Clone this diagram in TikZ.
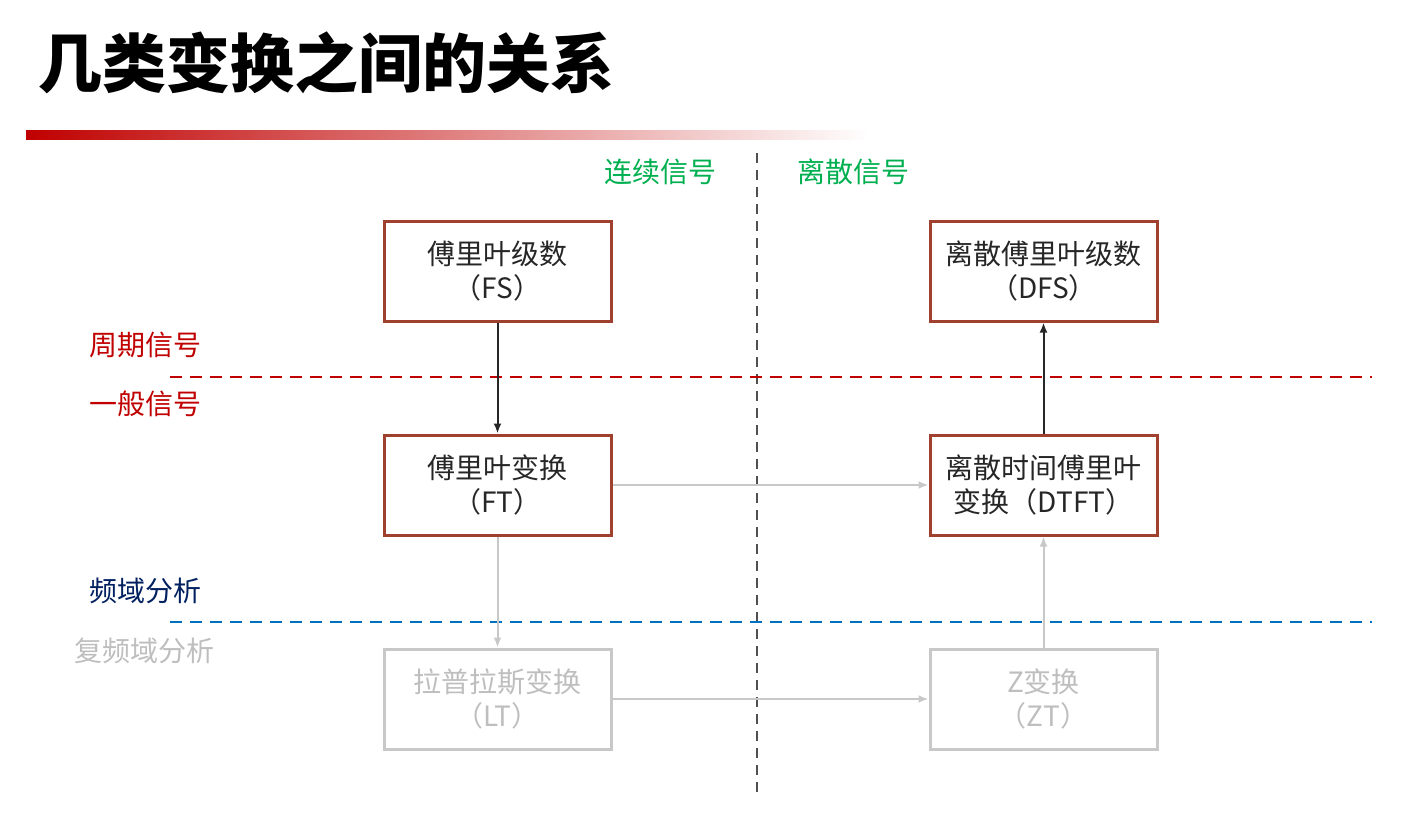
\documentclass[tikz,border=0pt]{standalone}
\usepackage{fontspec}
\setmainfont{Noto Sans CJK SC}
\usetikzlibrary{arrows.meta}
\definecolor{boxred}{RGB}{160,64,46}
\definecolor{boxgray}{RGB}{200,200,200}
\definecolor{txtgray}{RGB}{190,190,190}
\definecolor{txtdark}{RGB}{38,38,38}
\definecolor{lblred}{RGB}{192,0,0}
\definecolor{lblnavy}{RGB}{0,32,96}
\definecolor{lblgreen}{RGB}{0,176,80}
\definecolor{lineblue}{RGB}{0,112,192}
\definecolor{vgray}{RGB}{80,80,80}
\begin{document}
\begin{tikzpicture}[x=1pt,y=-1pt,
  tbox/.style={draw=boxred,line width=3pt,minimum width=227pt,minimum height=100pt,
    align=center,inner sep=0pt,text=txtdark,font=\fontsize{28}{34}\selectfont},
  gbox/.style={tbox,draw=boxgray,text=txtgray},
  darr/.style={draw=txtdark,line width=2pt,-{Latex[length=10pt,width=8pt]}},
  garr/.style={draw=boxgray,line width=2pt,-{Latex[length=10pt,width=8pt]}},
  lbl/.style={inner sep=0pt,font=\fontsize{28}{32}\selectfont},
  hdash/.style={line width=2.8pt,dash pattern=on 12pt off 8pt}]
\path[use as bounding box] (0,0) rectangle (1415,814);
% title
\node[anchor=west,inner sep=0pt,font=\fontsize{64}{72}\selectfont\bfseries] (title) at (38,63) {几类变换之间的关系};
\shade[left color=lblred,right color=white] (26,130) rectangle (870,139);
% divider lines
\coordinate (vt) at (757,153);
\coordinate (vb) at (757,795);
\draw[vgray,line width=2.5pt,dash pattern=on 10pt off 7pt] (vt) -- (vb);
\coordinate (rl) at (170,377);
\coordinate (rr) at (1372,377);
\draw[hdash,lblred] (rl) -- (rr);
\coordinate (bl) at (170,622);
\coordinate (br) at (1372,622);
\draw[hdash,lineblue] (bl) -- (br);
% labels
\node[lbl,text=lblgreen] (cont) at (660,172) {连续信号};
\node[lbl,text=lblgreen] (disc) at (853,172) {离散信号};
\node[lbl,text=lblred,anchor=west] (per) at (89,345) {周期信号};
\node[lbl,text=lblred,anchor=west] (gen) at (89,404) {一般信号};
\node[lbl,text=lblnavy,anchor=west] (freq) at (89,591) {频域分析};
\node[lbl,text=txtgray,anchor=west] (cfreq) at (74,651) {复频域分析};
% boxes
\node[tbox] (fs) at (497.5,271) {傅里叶级数\\（FS）};
\node[tbox] (dfs) at (1043.5,271) {离散傅里叶级数\\（DFS）};
\node[tbox] (ft) at (497.5,485) {傅里叶变换\\（FT）};
\node[tbox] (dtft) at (1043.5,485) {离散时间傅里叶\\变换（DTFT）};
\node[gbox] (lt) at (497.5,699) {拉普拉斯变换\\（LT）};
\node[gbox] (zt) at (1043.5,699) {Z变换\\（ZT）};
% arrows
\draw[darr] (fs) -- (ft);
\draw[darr] (dtft) -- (dfs);
\draw[garr] (ft) -- (dtft);
\draw[garr] (ft) -- (lt);
\draw[garr] (lt) -- (zt);
\draw[garr] (zt) -- (dtft);
\end{tikzpicture}
\end{document}
